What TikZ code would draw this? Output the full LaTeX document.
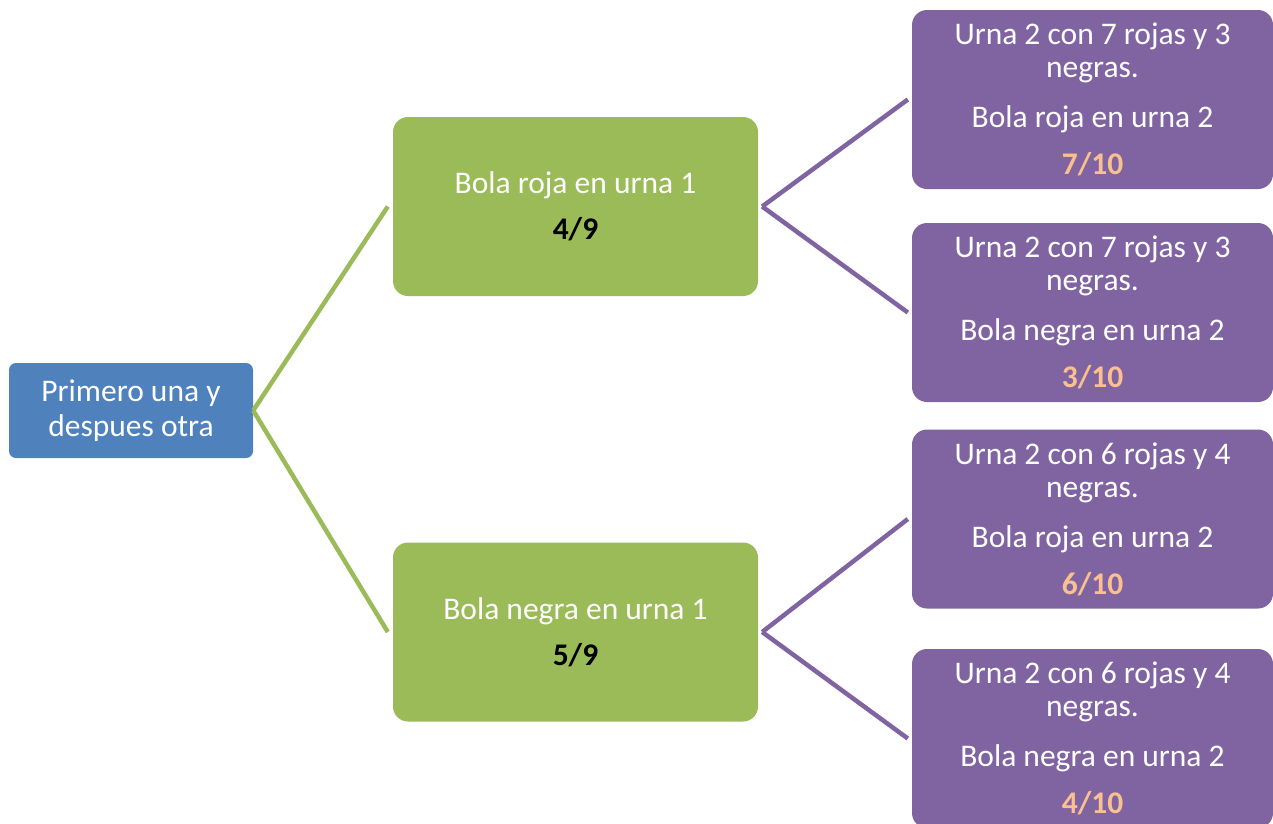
\documentclass[tikz,border=0pt]{standalone}
\usepackage{fontspec}
\setmainfont{Carlito}
\usepackage{xcolor}
\definecolor{rootblue}{HTML}{4F81BD}
\definecolor{leafgreen}{HTML}{9BBB59}
\definecolor{urnpurple}{HTML}{8064A2}
\definecolor{fracorange}{HTML}{FAC08F}

\begin{document}
\begin{tikzpicture}[x=1pt,y=-1pt,
  rootbox/.style={fill=rootblue,rounded corners=7pt,minimum width=244pt,minimum height=95pt,inner sep=0pt,align=center,text=white,font=\fontsize{31.5}{35}\selectfont},
  urnabox/.style={fill=leafgreen,rounded corners=15pt,minimum width=365pt,minimum height=179pt,inner sep=0pt,align=center,text=white,font=\fontsize{31.5}{33}\selectfont},
  bolabox/.style={fill=urnpurple,rounded corners=15pt,minimum width=361pt,minimum height=179pt,inner sep=0pt,align=center,text=white,font=\fontsize{31.5}{33}\selectfont},
  greenline/.style={draw=leafgreen,line width=4.5pt},
  purpleline/.style={draw=urnpurple,line width=4.5pt}]
\useasboundingbox (0,0) rectangle (1273,823);
\clip (0,0) rectangle (1273,823);

%Depth 0
\node[rootbox] (root) at (131,410.5) {Primero una y\\despues otra};

%Depth 1
\node[urnabox] (roja1) at (575.5,206.5) {Bola roja en urna 1\\[13pt]\textbf{\color{black}4/9}};
\node[urnabox] (negra1) at (575.5,632) {Bola negra en urna 1\\[13pt]\textbf{\color{black}5/9}};
\draw[greenline] (root.east) -- ([xshift=-5pt]roja1.west);
\draw[greenline] (root.east) -- ([xshift=-5pt]negra1.west);

%Depth 2
\node[bolabox] (rr) at (1092.5,99.5) {Urna 2 con 7 rojas y 3\\negras.\\[17pt]Bola roja en urna 2\\[14pt]\textbf{\color{fracorange}7/10}};
\node[bolabox] (rn) at (1092.5,312.5) {Urna 2 con 7 rojas y 3\\negras.\\[17pt]Bola negra en urna 2\\[14pt]\textbf{\color{fracorange}3/10}};
\node[bolabox] (nr) at (1092.5,519) {Urna 2 con 6 rojas y 4\\negras.\\[17pt]Bola roja en urna 2\\[14pt]\textbf{\color{fracorange}6/10}};
\node[bolabox] (nn) at (1092.5,738.5) {Urna 2 con 6 rojas y 4\\negras.\\[17pt]Bola negra en urna 2\\[14pt]\textbf{\color{fracorange}4/10}};
\draw[purpleline] ([xshift=4pt]roja1.east) -- ([xshift=-4pt]rr.west);
\draw[purpleline] ([xshift=4pt]roja1.east) -- ([xshift=-4pt]rn.west);
\draw[purpleline] ([xshift=4pt]negra1.east) -- ([xshift=-4pt]nr.west);
\draw[purpleline] ([xshift=4pt]negra1.east) -- ([xshift=-4pt]nn.west);

\end{tikzpicture}
\end{document}
